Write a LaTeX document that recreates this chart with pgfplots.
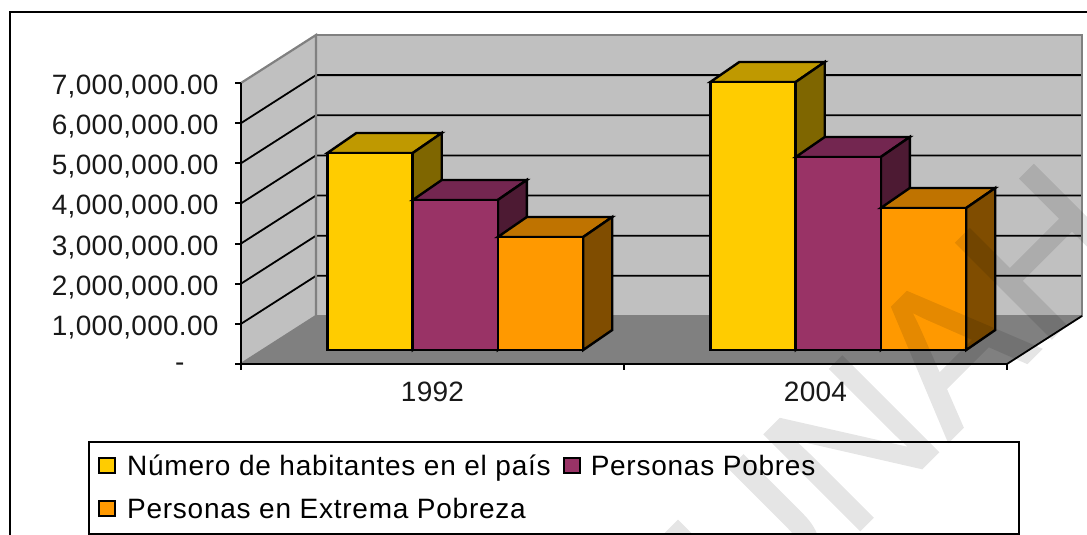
\documentclass[border=0pt]{standalone}
\usepackage{fontspec}
\setmainfont[LetterSpace=2.7]{Liberation Sans}
\newfontfamily\tickfont[LetterSpace=1]{Liberation Sans}
\newfontfamily\wmfont[FakeBold=1.5]{Liberation Sans}
\usepackage{pgfplots}
\pgfplotsset{compat=1.18}
\definecolor{cy}{HTML}{FFCC00}\definecolor{cyt}{HTML}{BF9900}\definecolor{cys}{HTML}{7F6600}
\definecolor{cp}{HTML}{993366}\definecolor{cpt}{HTML}{732650}\definecolor{cps}{HTML}{4D1A33}
\definecolor{co}{HTML}{FF9900}\definecolor{cot}{HTML}{BF7300}\definecolor{cos}{HTML}{804D00}
\definecolor{wall}{HTML}{C0C0C0}\definecolor{floorc}{HTML}{808080}
\begin{document}
\begin{tikzpicture}[x=1pt,y=1pt]
\path[use as bounding box] (0,0) rectangle (1087,535);
\draw[line width=2.4pt,black] (10,-5) -- (10,523) -- (1092,523);
% background axis with the value scale
\begin{axis}[
  at={(241pt,171pt)},anchor=south west,
  width=766pt,height=281pt,scale only axis,
  xmin=0,xmax=2,ymin=0,ymax=7000000,clip=false,
  axis x line*=bottom,axis y line*=left,
  axis line style={-,line width=2pt,black},
  axis on top,
  xtick={0,1,2},xticklabels={1992,2004},x tick label as interval,
  ytick={0,1000000,2000000,3000000,4000000,5000000,6000000,7000000},
  yticklabels={-\rule{34pt}{0pt},{1,000,000.00},{2,000,000.00},{3,000,000.00},{4,000,000.00},{5,000,000.00},{6,000,000.00},{7,000,000.00}},
  scaled y ticks=false,
  tick align=outside,major tick length=6pt,
  tick style={line width=2pt,black},
  tick label style={font=\tickfont\fontsize{28pt}{30pt}\selectfont,text=black!90},
  yticklabel style={xshift=-13pt,yshift=-3.5pt,anchor=east},
  xticklabel style={yshift=-8pt},
]
\addplot[fill=wall,draw=none,forget plot] coordinates {(0,0)(0.1958,1195800)(0.1958,8195800)(0,7000000)} --cycle;
\addplot[fill=wall,draw=none,forget plot] coordinates {(0.1958,1195800)(2.1958,1195800)(2.1958,8195800)(0.1958,8195800)} --cycle;
\addplot[fill=floorc,draw=none,forget plot] coordinates {(0,0)(2,0)(2.1958,1195800)(0.1958,1195800)} --cycle;
\addplot[black,line width=1.8pt,forget plot] coordinates {(0,1000000)(0.1958,2195800)(2.1958,2195800)};
\addplot[black,line width=1.8pt,forget plot] coordinates {(0,2000000)(0.1958,3195800)(2.1958,3195800)};
\addplot[black,line width=1.8pt,forget plot] coordinates {(0,3000000)(0.1958,4195800)(2.1958,4195800)};
\addplot[black,line width=1.8pt,forget plot] coordinates {(0,4000000)(0.1958,5195800)(2.1958,5195800)};
\addplot[black,line width=1.8pt,forget plot] coordinates {(0,5000000)(0.1958,6195800)(2.1958,6195800)};
\addplot[black,line width=1.8pt,forget plot] coordinates {(0,6000000)(0.1958,7195800)(2.1958,7195800)};
\addplot[floorc,line width=2.2pt,forget plot] coordinates {(0,0)(0.1958,1195800)(0.1958,8195800)(0,7000000)};
\addplot[floorc,line width=2.2pt,forget plot] coordinates {(0.1958,8195800)(2.1958,8195800)(2.1958,1195800)(0.1958,1195800)};
\addplot[black,line width=1.8pt,forget plot] coordinates {(2,0)(2.1958,1195800)};
\end{axis}
% legend box
\draw[line width=2pt,black,fill=white] (89,1) rectangle (1019,93);
% bars, on the plane in front of the floor
\begin{axis}[
  at={(263.8pt,185pt)},anchor=south west,
  width=766pt,height=281pt,scale only axis,
  xmin=0,xmax=2,ymin=0,ymax=7000000,clip=false,
  hide axis,
  legend columns=2,
  legend style={at={(axis description cs:-0.2165,-0.3665)},anchor=north west,draw=none,fill=none,inner sep=0pt,
    font=\fontsize{28pt}{30pt}\selectfont,row sep=17pt,
    /tikz/column 2/.style={column sep=10pt},
    /tikz/column 1/.style={column sep=9pt},
    /tikz/column 3/.style={column sep=8pt},
    cells={anchor=west}},
  legend cell align=left,
  legend image code/.code={\draw[#1,line width=2pt] (0pt,-7pt) rectangle (16pt,8pt);},
  every axis plot/.append style={line width=2.4pt},
]
% 1992 and 2004, first series
\addplot[fill=cyt,draw=black,forget plot] coordinates {(0.166,4908000)(0.389,4908000)(0.4647,5406000)(0.2417,5406000)} --cycle;
\addplot[fill=cys,draw=black,forget plot] coordinates {(0.389,0)(0.389,4908000)(0.4647,5406000)(0.4647,498000)} --cycle;
\addplot[fill=cyt,draw=black,forget plot] coordinates {(1.166,6677000)(1.389,6677000)(1.4647,7175000)(1.2417,7175000)} --cycle;
\addplot[fill=cys,draw=black,forget plot] coordinates {(1.389,0)(1.389,6677000)(1.4647,7175000)(1.4647,498000)} --cycle;
\addplot[ybar,bar width=85.3pt,bar shift=-85.3pt,fill=cy,draw=black] coordinates {(0.5,4908000)(1.5,6677000)};
\addlegendentry{Número de habitantes en el país}
% second series
\addplot[fill=cpt,draw=black,forget plot] coordinates {(0.389,3737000)(0.611,3737000)(0.6867,4235000)(0.4647,4235000)} --cycle;
\addplot[fill=cps,draw=black,forget plot] coordinates {(0.611,0)(0.611,3737000)(0.6867,4235000)(0.6867,498000)} --cycle;
\addplot[fill=cpt,draw=black,forget plot] coordinates {(1.389,4808000)(1.611,4808000)(1.6867,5306000)(1.4647,5306000)} --cycle;
\addplot[fill=cps,draw=black,forget plot] coordinates {(1.611,0)(1.611,4808000)(1.6867,5306000)(1.6867,498000)} --cycle;
\addplot[ybar,bar width=85.3pt,bar shift=0pt,fill=cp,draw=black] coordinates {(0.5,3737000)(1.5,4808000)};
\addlegendentry{Personas Pobres}
% third series
\addplot[fill=cot,draw=black,forget plot] coordinates {(0.611,2815000)(0.834,2815000)(0.9097,3313000)(0.6867,3313000)} --cycle;
\addplot[fill=cos,draw=black,forget plot] coordinates {(0.834,0)(0.834,2815000)(0.9097,3313000)(0.9097,498000)} --cycle;
\addplot[fill=cot,draw=black,forget plot] coordinates {(1.611,3538000)(1.834,3538000)(1.9097,4036000)(1.6867,4036000)} --cycle;
\addplot[fill=cos,draw=black,forget plot] coordinates {(1.834,0)(1.834,3538000)(1.9097,4036000)(1.9097,498000)} --cycle;
\addplot[ybar,bar width=85.3pt,bar shift=85.3pt,fill=co,draw=black] coordinates {(0.5,2815000)(1.5,3538000)};
\addlegendentry{Personas en Extrema Pobreza}
\end{axis}
% watermark
\begin{scope}[transparency group,opacity=0.10]
\node[rotate=45,text=black,font=\wmfont\fontsize{195pt}{195pt}\selectfont] at (898,137) {UNAH};
\end{scope}
\end{tikzpicture}
\end{document}
